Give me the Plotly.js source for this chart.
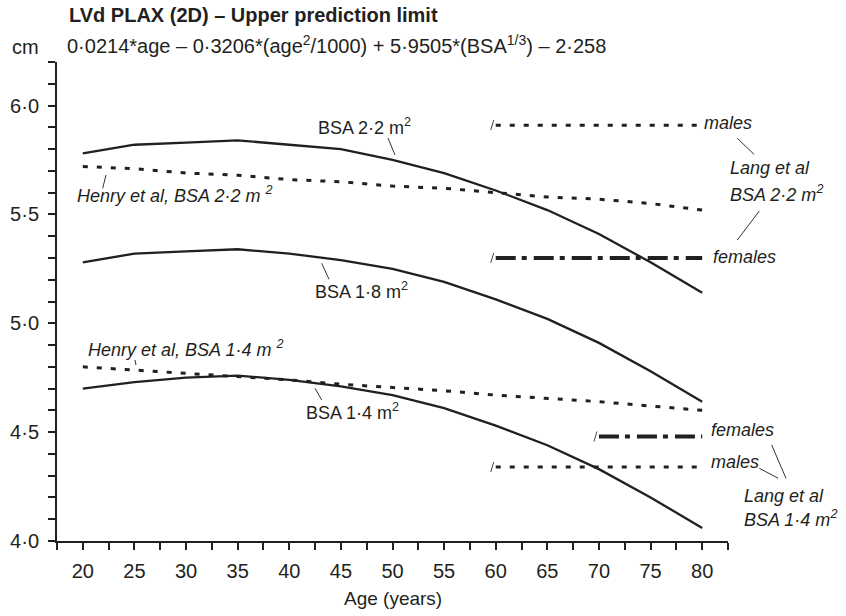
<!DOCTYPE html>
<html><head><meta charset="utf-8">
<script src="https://cdn.plot.ly/plotly-3.0.1.min.js"></script>
<style>html,body{margin:0;padding:0;background:#fff}#chart{width:846px;height:616px}</style>
</head><body><div id="chart"></div>
<script>
// ---- data ----
const ages = [20,25,30,35,40,45,50,55,60,65,70,75,80];
const bsa22 = [5.78,5.82,5.83,5.84,5.82,5.80,5.75,5.69,5.61,5.52,5.41,5.28,5.14];
const bsa18 = [5.28,5.32,5.33,5.34,5.32,5.29,5.25,5.19,5.11,5.02,4.91,4.78,4.64];
const bsa14 = [4.70,4.73,4.75,4.76,4.74,4.71,4.67,4.61,4.53,4.44,4.33,4.20,4.06];
const henry22 = [5.72,5.71,5.69,5.68,5.66,5.65,5.63,5.62,5.60,5.58,5.57,5.55,5.52];
const henry14 = [4.80,4.785,4.77,4.755,4.74,4.72,4.705,4.69,4.67,4.655,4.64,4.62,4.60];
const langAges = [60, 80];
const langAgesF14 = [70, 80];
const langMales22 = [5.91, 5.91];
const langFemales22 = [5.30, 5.30];
const langMales14 = [4.34, 4.34];
const langFemales14 = [4.48, 4.48];
const xTickLabels = ['20','25','30','35','40','45','50','55','60','65','70','75','80'];
const yTickLabels = ['4·0','4·5','5·0','5·5','6·0'];

// ---- layout helpers ----
const M = {l:57, r:118, t:62, b:75};
const W = 846, H = 616;
const PW = W - M.l - M.r, PH = H - M.t - M.b;
const px = x => (x - M.l) / PW;
const py = y => (H - M.b - y) / PH;
const FONT = 'Liberation Sans, Arial, Helvetica, sans-serif';
const INK = '#231f20';

const xTickVals = [], xTickText = [];
for (let i = 0; i <= 26; i++) {
  const v = 17.5 + i * 2.5;
  xTickVals.push(v);
  const k = xTickLabels.indexOf(String(v));
  xTickText.push(k >= 0 ? xTickLabels[k] : '');
}
const yTickVals = [], yTickText = [];
for (let i = 0; i <= 22; i++) {
  yTickVals.push(Math.round((4 + i * 0.1) * 10) / 10);
  yTickText.push(i % 5 === 0 ? yTickLabels[i / 5] : '');
}

const solid = {color: INK, width: 2.3};
const dotted = {color: INK, width: 3, dash: '5px,9px'};
const dashdot = {color: INK, width: 4, dash: '20px,6px,5px,7px'};

const traces = [
  {x: ages, y: bsa22, line: solid},
  {x: ages, y: bsa18, line: solid},
  {x: ages, y: bsa14, line: solid},
  {x: ages, y: henry22, line: dotted},
  {x: ages, y: henry14, line: dotted},
  {x: langAges, y: langMales22, line: dotted},
  {x: langAges, y: langFemales22, line: dashdot},
  {x: langAges, y: langMales14, line: dotted},
  {x: langAgesF14, y: langFemales14, line: dashdot},
].map(t => Object.assign({type: 'scatter', mode: 'lines', hoverinfo: 'skip', showlegend: false}, t));

function lab(text, x, y, xanchor, size) {
  return {text, xref: 'paper', yref: 'paper', x: px(x), y: py(y), xanchor: xanchor || 'left',
    yanchor: 'middle', showarrow: false, font: {family: FONT, size: size || 18, color: INK}};
}
const annotations = [
  lab('<b>LVd PLAX (2D) – Upper prediction limit</b>', 67, 15, 'left', 20),
  lab('0·0214*age – 0·3206*(age<sup>2</sup>/1000) + 5·9505*(BSA<sup>1/3</sup>) – 2·258', 65, 44, 'left', 20),
  lab('cm', 10, 47, 'left', 20),
  lab('BSA 2·2 m<sup>2</sup>', 364, 126, 'center'),
  lab('BSA 1·8 m<sup>2</sup>', 361, 290, 'center'),
  lab('BSA 1·4 m<sup>2</sup>', 352, 411, 'center'),
  lab('<i>Henry et al, BSA 2·2 m <sup>2</sup></i>', 75, 194, 'left'),
  lab('<i>Henry et al, BSA 1·4 m <sup>2</sup></i>', 86, 348, 'left'),
  lab('<i>males</i>', 702, 123, 'left'),
  lab('<i>Lang et al</i>', 728, 168, 'left'),
  lab('<i>BSA 2·2 m<sup>2</sup></i>', 728, 193, 'left'),
  lab('<i>females</i>', 711, 257, 'left'),
  lab('<i>females</i>', 709, 430, 'left'),
  lab('<i>males</i>', 709, 462, 'left'),
  lab('<i>Lang et al</i>', 742, 496, 'left'),
  lab('<i>BSA 1·4 m<sup>2</sup></i>', 742, 518, 'left'),
  {text: 'Age (years)', xref: 'paper', yref: 'paper', x: 0.5, y: py(598), xanchor: 'center', yanchor: 'middle',
    showarrow: false, font: {family: FONT, size: 19, color: INK}},
];

const leaders = [
  [388,138,395,155], [321.7,263.3,329,279.3], [315,388.3,321.7,400],
  [106,175,102.7,188.3], [135,360,136,365],
  [737.3,138.3,754,154.3], [759.3,211,737.3,240],
  [759.3,468.3,778.3,478.3], [771.7,445,786,478.3]
];
const shapes = leaders.map(([x0,y0,x1,y1]) => ({type: 'line', xref: 'paper', yref: 'paper',
  x0: px(x0), y0: py(y0), x1: px(x1), y1: py(y1), line: {color: '#333', width: 1}}));
// small slash marks at the start of each Lang et al reference line
[[langAges[0], langMales22[0]], [langAges[0], langFemales22[0]], [langAges[0], langMales14[0]], [langAgesF14[0], langFemales14[0]]]
  .forEach(([a, v]) => shapes.push({type: 'line', xref: 'x', yref: 'y', xsizemode: 'pixel', ysizemode: 'pixel',
    xanchor: a, yanchor: v, x0: -5, x1: -2, y0: -5, y1: 5, line: {color: '#444', width: 1}}));

const axisCommon = {showline: true, linecolor: INK, linewidth: 2, ticks: 'outside', ticklen: 7, tickwidth: 2,
  tickcolor: INK, showgrid: false, zeroline: false, tickmode: 'array',
  tickfont: {family: FONT, size: 20, color: INK}, fixedrange: true};

const layout = {
  width: W, height: H, margin: M, paper_bgcolor: '#fff', plot_bgcolor: '#fff', showlegend: false,
  xaxis: Object.assign({}, axisCommon, {range: [17.5, 82.5], tickvals: xTickVals, ticktext: xTickText, ticklabelstandoff: 4}),
  yaxis: Object.assign({}, axisCommon, {range: [4.0, 6.2], tickvals: yTickVals, ticktext: yTickText, ticklabelstandoff: 5}),
  annotations, shapes
};
Plotly.newPlot('chart', traces, layout, {displayModeBar: false, staticPlot: true});
</script></body></html>
